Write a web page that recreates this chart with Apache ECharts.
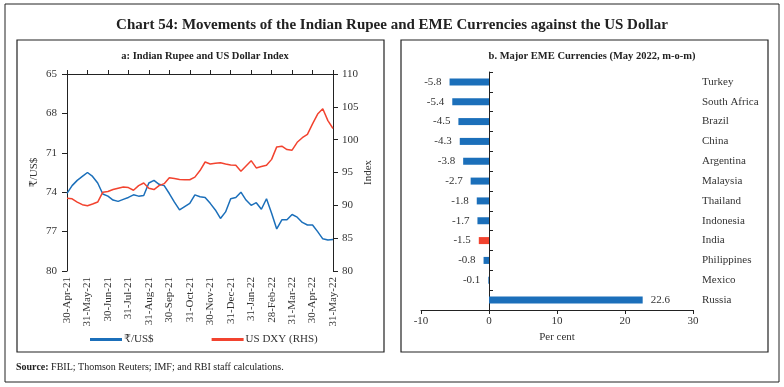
<!DOCTYPE html>
<html>
<head>
<meta charset="utf-8">
<script src="https://cdn.jsdelivr.net/npm/echarts@6/dist/echarts.min.js"></script>
<style>
html,body{margin:0;padding:0;background:#fff;}
#c{width:784px;height:387px;}
</style>
</head>
<body>
<div id="c"></div>
<script>
// ---- Panel a data ----
const monthLabels = ['30-Apr-21','31-May-21','30-Jun-21','31-Jul-21','31-Aug-21','30-Sep-21','31-Oct-21','30-Nov-21','31-Dec-21','31-Jan-22','28-Feb-22','31-Mar-22','30-Apr-22','31-May-22'];
const inrUsd = [74.09,73.5,73.1,72.8,72.5,72.8,73.3,74.14,74.3,74.6,74.7,74.55,74.4,74.2,74.3,74.25,73.3,73.1,73.4,73.5,74.1,74.75,75.35,75.1,74.85,74.2,74.35,74.4,74.85,75.35,76.0,75.5,74.5,74.4,74.0,74.6,75.0,74.8,75.3,74.5,75.6,76.8,76.1,76.1,75.7,75.9,76.3,76.5,76.5,77.0,77.55,77.64,77.6];
const dxy = [91.08,91.0,90.5,90.1,89.95,90.2,90.5,92.0,92.1,92.4,92.6,92.8,92.7,92.3,93.0,93.4,92.6,92.4,93.0,93.3,94.2,94.1,93.95,93.9,93.9,94.3,95.3,96.6,96.3,96.4,96.5,96.3,96.15,96.1,95.2,96.0,96.8,95.7,95.9,96.1,97.0,98.9,99.0,98.5,98.4,99.6,100.3,100.8,102.4,103.9,104.7,102.9,101.7];

// ---- Panel b data ----
const countries = ['Turkey','South Africa','Brazil','China','Argentina','Malaysia','Thailand','Indonesia','India','Philippines','Mexico','Russia'];
const changes = [-5.8,-5.4,-4.5,-4.3,-3.8,-2.7,-1.8,-1.7,-1.5,-0.8,-0.1,22.6];
const highlight = 'India';

const BLUE = '#1b6fba';
const RED = '#f2432f';
const FONT = '"Liberation Serif", "DejaVu Serif", serif';
const TXT = '#333';

// weekly-ish categories: month-end labels at every 4th position
const categories = [];
for (let m = 0; m < monthLabels.length - 1; m++) {
  categories.push(monthLabels[m]);
  for (let w = 1; w <= 3; w++) categories.push(monthLabels[m] + ' +' + w + 'w');
}
categories.push(monthLabels[monthLabels.length - 1]);

const chart = echarts.init(document.getElementById('c'), null, {renderer: 'canvas'});

const option = {
  animation: false,
  backgroundColor: '#fff',
  textStyle: {fontFamily: FONT, color: TXT},
  title: [
    {text: 'Chart 54: Movements of the Indian Rupee and EME Currencies against the US Dollar', left: 'center', top: 13,
     textStyle: {fontFamily: FONT, fontSize: 15, fontWeight: 'bold', color: '#222'}},
    {text: 'a: Indian Rupee and US Dollar Index', left: 200, top: 46, textAlign: 'center',
     textStyle: {fontFamily: FONT, fontSize: 10.5, fontWeight: 'bold', color: '#222'}},
    {text: 'b. Major EME Currencies (May 2022, m-o-m)', left: 587, top: 46, textAlign: 'center',
     textStyle: {fontFamily: FONT, fontSize: 10.5, fontWeight: 'bold', color: '#222'}}
  ],
  graphic: [
    {type: 'rect', shape: {x: 5, y: 4, width: 774, height: 378}, style: {fill: 'none', stroke: '#222', lineWidth: 1}, silent: true},
    {type: 'rect', shape: {x: 17, y: 40, width: 367, height: 312}, style: {fill: 'none', stroke: '#222', lineWidth: 1.2}, silent: true},
    {type: 'rect', shape: {x: 401, y: 40, width: 367, height: 312}, style: {fill: 'none', stroke: '#222', lineWidth: 1.2}, silent: true},
    {type: 'text', left: 16, top: 362, style: {
      text: '{b|Source:} FBIL; Thomson Reuters; IMF; and RBI staff calculations.',
      rich: {b: {fontWeight: 'bold', fontFamily: FONT, fontSize: 10, fill: '#222'}},
      fontFamily: FONT, fontSize: 10, fill: '#222'}}
  ],
  legend: {
    data: ['₹/US$', 'US DXY (RHS)'],
    left: 90, top: 334, padding: 0,
    icon: 'rect', itemWidth: 32, itemHeight: 3, itemGap: 58,
    textStyle: {fontFamily: FONT, fontSize: 11, color: TXT, padding: [0, 0, 0, -3]}
  },
  grid: [
    {left: 67, right: 451, top: 74, height: 197},
    {left: 421, right: 91, top: 72, height: 238}
  ],
  xAxis: [
    {type: 'category', gridIndex: 0, position: 'bottom', data: categories, boundaryGap: false,
     axisLine: {show: false}, axisTick: {show: false},
     axisLabel: {interval: 3, rotate: 90, margin: 6, fontSize: 11, color: TXT, fontFamily: FONT}},
    {type: 'category', gridIndex: 0, position: 'top', data: categories, boundaryGap: false,
     axisLine: {show: true, onZero: false, lineStyle: {color: '#222', width: 1}},
     axisTick: {show: true, interval: 3, length: 4, lineStyle: {color: '#222'}},
     axisLabel: {show: false}},
    {type: 'value', gridIndex: 1, min: -10, max: 30, interval: 10,
     name: 'Per cent', nameLocation: 'middle', nameGap: 22,
     nameTextStyle: {fontFamily: FONT, fontSize: 11, color: TXT},
     axisLine: {show: true, onZero: false, lineStyle: {color: '#222'}},
     axisTick: {show: true, length: 4, lineStyle: {color: '#222'}},
     splitLine: {show: false},
     axisLabel: {fontSize: 11, color: TXT, fontFamily: FONT, margin: 6}}
  ],
  yAxis: [
    {type: 'value', gridIndex: 0, min: 65, max: 80, interval: 3, inverse: true, position: 'left',
     name: '₹/US$', nameLocation: 'middle', nameGap: 27,
     nameTextStyle: {fontFamily: FONT, fontSize: 11, color: TXT},
     axisLine: {show: true, lineStyle: {color: '#222'}},
     axisTick: {show: true, length: 5, lineStyle: {color: '#222'}},
     splitLine: {show: false},
     axisLabel: {fontSize: 11, color: TXT, fontFamily: FONT, margin: 10}},
    {type: 'value', gridIndex: 0, min: 80, max: 110, interval: 5, position: 'right',
     name: 'Index', nameLocation: 'middle', nameGap: 29,
     nameTextStyle: {fontFamily: FONT, fontSize: 11, color: TXT},
     axisLine: {show: true, lineStyle: {color: '#222'}},
     axisTick: {show: true, length: 5, lineStyle: {color: '#222'}},
     splitLine: {show: false},
     axisLabel: {fontSize: 11, color: TXT, fontFamily: FONT, margin: 9}},
    {type: 'category', gridIndex: 1, data: countries, inverse: true, position: 'left',
     axisLine: {show: true, onZero: true, lineStyle: {color: '#222'}},
     axisTick: {show: true, inside: true, length: 4, lineStyle: {color: '#222'}},
     axisLabel: {show: false}},
    {type: 'category', gridIndex: 1, data: countries, inverse: true, position: 'right',
     axisLine: {show: false, onZero: false}, axisTick: {show: false},
     axisLabel: {show: true, align: 'left', margin: 9, fontSize: 11, color: TXT, fontFamily: FONT}}
  ],
  series: [
    {name: '₹/US$', type: 'line', xAxisIndex: 0, yAxisIndex: 0, data: inrUsd, symbol: 'none',
     lineStyle: {color: BLUE, width: 1.5}, itemStyle: {color: BLUE}},
    {name: 'US DXY (RHS)', type: 'line', xAxisIndex: 0, yAxisIndex: 1, data: dxy, symbol: 'none',
     lineStyle: {color: RED, width: 1.5}, itemStyle: {color: RED}},
    {name: 'EME', type: 'bar', xAxisIndex: 2, yAxisIndex: 2, barWidth: 7,
     data: changes.map((v, i) => ({
       value: v,
       itemStyle: {color: countries[i] === highlight ? RED : BLUE},
       label: {position: v < 0 ? 'left' : 'right'}
     })),
     label: {show: true, distance: 8, fontSize: 11, color: TXT, fontFamily: FONT,
       formatter: p => p.value.toFixed(1)}}
  ]
};
chart.setOption(option);
</script>
</body>
</html>
